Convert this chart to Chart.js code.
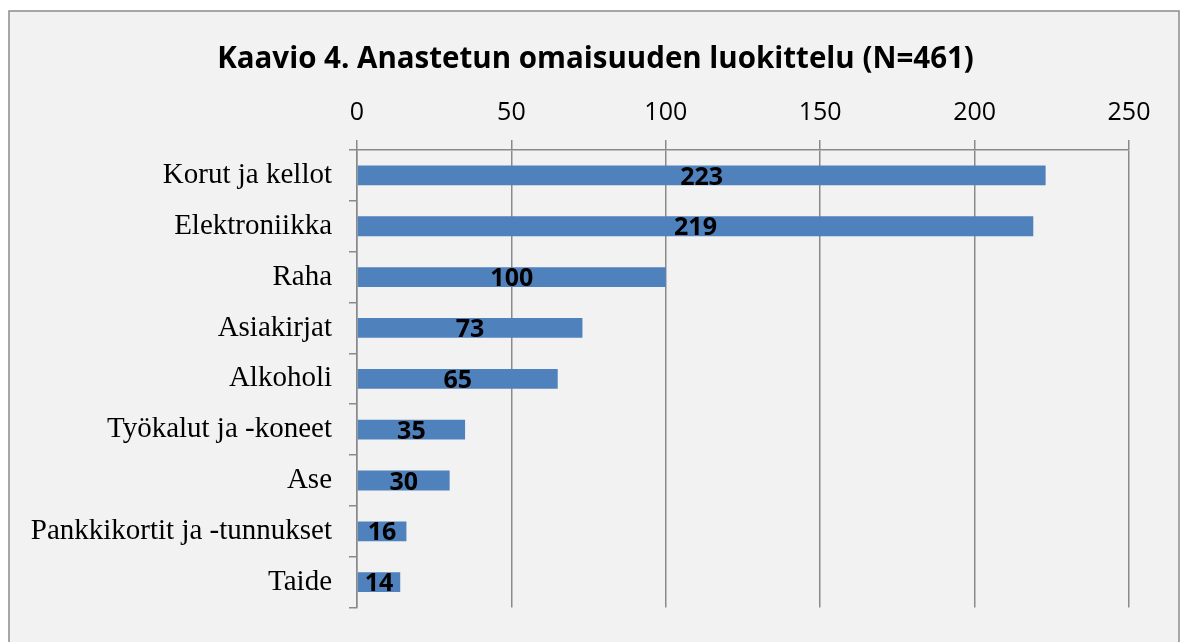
<!DOCTYPE html>
<html>
<head>
<meta charset="utf-8">
<script src="https://cdn.jsdelivr.net/npm/chart.js@4/dist/chart.umd.min.js"></script>
<style>
  html, body { margin: 0; padding: 0; background: #fff; }
  #wrap { position: relative; width: 1187px; height: 642px; }
</style>
</head>
<body>
<div id="wrap"><canvas id="chart-4"></canvas></div>
<script>
  const categories = [
    "Korut ja kellot",
    "Elektroniikka",
    "Raha",
    "Asiakirjat",
    "Alkoholi",
    "Työkalut ja -koneet",
    "Ase",
    "Pankkikortit ja -tunnukset",
    "Taide",
  ];
  const counts = [223, 219, 100, 73, 65, 35, 30, 16, 14];
  const tickStep = 50;
  const maxX = 250;

  // gray frame behind the chart, like the spreadsheet chart box
  const frame = {
    id: "frame",
    beforeDraw(chart) {
      const ctx = chart.ctx;
      ctx.save();
      ctx.fillStyle = "#fff";
      ctx.fillRect(0, 0, chart.width, chart.height);
      ctx.fillStyle = "#f2f2f2";
      ctx.fillRect(9, 11, 1170, 640);
      ctx.strokeStyle = "#8c8c8c";
      ctx.lineWidth = 1.5;
      ctx.strokeRect(9, 11, 1170, 640);
      ctx.restore();
    },
  };

  // value labels in the middle of each bar
  const barLabels = {
    id: "barLabels",
    afterDatasetsDraw(chart) {
      const ctx = chart.ctx;
      const meta = chart.getDatasetMeta(0);
      ctx.save();
      ctx.font = "bold 25px 'Open Sans'";
      ctx.fillStyle = "#000";
      ctx.textAlign = "center";
      ctx.textBaseline = "middle";
      meta.data.forEach((bar, i) => {
        const p = bar.getCenterPoint();
        ctx.fillText(String(counts[i]), p.x, p.y + 2);
      });
      ctx.restore();
    },
  };

  const padLeft = 4;

  new Chart(document.getElementById("chart-4"), {
    type: "bar",
    data: {
      labels: categories,
      datasets: [
        {
          data: counts,
          backgroundColor: "#4f81bd",
          barPercentage: 0.39,
          categoryPercentage: 1,
        },
      ],
    },
    options: {
      indexAxis: "y",
      responsive: true,
      maintainAspectRatio: false,
      animation: false,
      layout: {
        padding: { top: 42, left: padLeft, right: 0, bottom: 24 },
      },
      plugins: {
        legend: { display: false },
        tooltip: { enabled: false },
        title: {
          display: true,
          text: "Kaavio 4. Anastetun omaisuuden luokittelu (N=461)",
          color: "#000",
          font: { family: "'Open Sans'", size: 29.5, weight: "bold" },
          padding: { top: 0, bottom: 0 },
        },
      },
      scales: {
        x: {
          position: "top",
          min: 0,
          max: maxX,
          afterFit: (s) => { s.height = 150 - 42 - 35.4; },
          ticks: {
            stepSize: tickStep,
            color: "#000",
            padding: 12,
            font: { family: "'Open Sans'", size: 25 },
          },
          grid: {
            color: "#8a8a8a",
            lineWidth: 1.5,
            tickLength: 10,
          },
          border: { color: "#8a8a8a", width: 1.5 },
        },
        y: {
          afterFit: (s) => { s.width = 357 - padLeft; },
          ticks: {
            color: "#000",
            padding: 17,
            font: { family: "'Liberation Serif'", size: 29 },
          },
          grid: {
            drawOnChartArea: false,
            color: "#8a8a8a",
            lineWidth: 1.5,
            tickLength: 8,
          },
          border: { color: "#8a8a8a", width: 1.5 },
        },
        // empty right-hand axis, just keeps the space right of 250
        yRight: {
          type: "category",
          position: "right",
          afterFit: (s) => { s.width = 58; },
          ticks: { display: false },
          grid: { display: false },
          border: { display: false },
        },
      },
    },
    plugins: [frame, barLabels],
  });
</script>
</body>
</html>
